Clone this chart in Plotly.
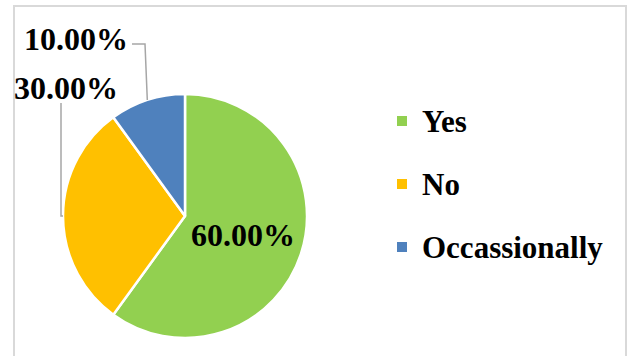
import math
import plotly.graph_objects as go

labels = ["Yes", "No", "Occassionally"]
values = [60, 30, 10]
colors = ["#92D050", "#FFC000", "#4F81BD"]

W, H = 628, 356
FONT = "Liberation Serif"

def px(x):
    return x / W

def py(y):
    return 1 - y / H

# pie geometry (pixels)
CX, CY, R = 185, 216, 122

fig = go.Figure()
fig.add_trace(go.Pie(
    labels=labels,
    values=values,
    sort=False,
    direction="clockwise",
    rotation=0,
    marker=dict(colors=colors, line=dict(color="white", width=2.5)),
    texttemplate="<b>%{percent:.2%}</b>",
    textposition=["inside", "none", "none"],
    insidetextorientation="horizontal",
    insidetextfont=dict(family=FONT, size=32, color="black"),
    domain=dict(x=[px(CX - R), px(CX + R)], y=[py(CY + R), py(CY - R)]),
    showlegend=False,
    hoverinfo="label+percent",
))

shapes = []
annotations = []

# chart border
shapes.append(dict(type="rect", xref="paper", yref="paper",
                   x0=px(14), x1=px(626), y0=py(380), y1=py(6),
                   line=dict(color="#D9D9D9", width=2), layer="below"))

# outside labels with leader lines (computed from data)
total = sum(values)
cum = 0
mids = []
for v in values:
    mids.append((cum + v / 2) / total * 2 * math.pi)
    cum += v

def edge(i):
    a = mids[i]
    return CX + R * math.sin(a), CY - R * math.cos(a)

pct = [f"{v / total * 100:.2f}%" for v in values]

# Occassionally label
ex, ey = edge(2)
annotations.append(dict(xref="paper", yref="paper", x=px(76), y=py(39),
                        text=f"<b>{pct[2]}</b>", showarrow=False,
                        xanchor="center", yanchor="middle",
                        font=dict(family=FONT, size=32, color="black")))
shapes.append(dict(type="path", xref="paper", yref="paper",
                   path=f"M {px(132)},{py(44)} L {px(145)},{py(44)} L {px(ex)},{py(ey)}",
                   line=dict(color="#A6A6A6", width=1.5)))

# No label
ex, ey = edge(1)
annotations.append(dict(xref="paper", yref="paper", x=px(66), y=py(88),
                        text=f"<b>{pct[1]}</b>", showarrow=False,
                        xanchor="center", yanchor="middle",
                        font=dict(family=FONT, size=32, color="black")))
shapes.append(dict(type="path", xref="paper", yref="paper",
                   path=f"M {px(61)},{py(103)} L {px(61)},{py(ey)} L {px(ex)},{py(ey)}",
                   line=dict(color="#A6A6A6", width=1.5)))

# legend
leg_y = [121, 184, 247]
for lab, col, yy in zip(labels, colors, leg_y):
    shapes.append(dict(type="rect", xref="paper", yref="paper",
                       x0=px(397), x1=px(407), y0=py(yy + 5), y1=py(yy - 5),
                       fillcolor=col, line=dict(width=0)))
    annotations.append(dict(xref="paper", yref="paper", x=px(420), y=py(yy),
                            text=f"<b>{lab}</b>", showarrow=False,
                            xanchor="left", yanchor="middle",
                            font=dict(family=FONT, size=31, color="black")))

fig.update_layout(
    width=W, height=H,
    margin=dict(l=0, r=0, t=0, b=0),
    paper_bgcolor="white",
    plot_bgcolor="white",
    shapes=shapes,
    annotations=annotations,
)

fig.write_html("out.html")
